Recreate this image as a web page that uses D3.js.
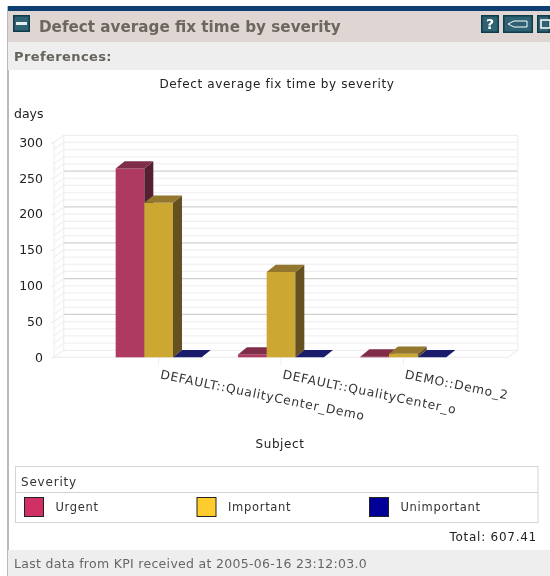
<!DOCTYPE html>
<html><head><meta charset="utf-8">
<script src="https://cdn.jsdelivr.net/npm/d3@7/dist/d3.min.js"></script>
<style>html,body{margin:0;padding:0;background:#fff}svg{display:block;filter:blur(0.35px)}</style>
</head><body><div id="c"></div>
<script>
const categories = ["DEFAULT::QualityCenter_Demo","DEFAULT::QualityCenter_o","DEMO::Demo_2"];
const severities = ["Urgent","Important","Unimportant"];
const urgentValues = [263.5,4,0.9];
const importantValues = [215.5,119,5];
const unimportantValues = [0,0,0];
const yTicks = [0,50,100,150,200,250,300];
const minorTicks = d3.range(0,301,10);
const chartTitle = "Defect average fix time by severity";
const totalLabel = "Total: 607.41";
const footerLabel = "Last data from KPI received at 2005-06-16 23:12:03.0";

const seriesValues = [urgentValues,importantValues,unimportantValues];
const faces = [
 {front:"#ae3a61",top:"#7f2d48",side:"#562034",legend:"#d03064"},
 {front:"#cca833",top:"#93772e",side:"#655022",legend:"#ffcc2e"},
 {front:"#10106e",top:"#1b1b6b",side:"#0b0b45",legend:"#000099"}];
const font = "'DejaVu Sans',sans-serif";
const svg = d3.select("#c").append("svg").attr("width",550).attr("height",576).style("font-family",font);
const rect=(x,y,w,h,f)=>svg.append("rect").attr("x",x).attr("y",y).attr("width",w).attr("height",h).attr("fill",f);

// page chrome
rect(7,6,2,570,"#b9b9b9");
rect(8,6,542,5,"#0e3f73");
rect(8,11,542,31,"#dfd6d4");
rect(8,42,542,28,"#eeeeee");
rect(8,550,542,26,"#eeeeee");
svg.append("text").attr("x",39).attr("y",32).attr("font-size",15.2).attr("font-weight","bold").attr("fill","#6b665e").text(chartTitle);
svg.append("text").attr("x",14).attr("y",61).attr("font-size",13).attr("letter-spacing",0.4).attr("font-weight","bold").attr("fill","#66625c").text("Preferences:");

// icons
const icon=(x,y,w,h)=>{rect(x,y,w,h,"#0f3b4a");rect(x+1.5,y+1.5,w-3,h-3,"#2f6272");};
icon(13,15,17,17);
rect(16,22,11,3,"#e8eef0");
icon(481,15,18,18);
svg.append("text").attr("x",490).attr("y",29).attr("text-anchor","middle").attr("font-size",14).attr("font-weight","bold").attr("fill","#fff").text("?");
icon(503,15,30,18);
svg.append("path").attr("d","M508 24l6-3h13v6h-13z").attr("fill","#2f6272").attr("stroke","#fff");
icon(537,15,13,18);
svg.append("rect").attr("x",541).attr("y",20).attr("width",9).attr("height",8).attr("fill","none").attr("stroke","#fff").attr("stroke-width",1.5);

svg.append("text").attr("x",277).attr("y",88).attr("text-anchor","middle").attr("font-size",12).attr("letter-spacing",0.65).attr("fill","#222").text(chartTitle);
svg.append("text").attr("x",14).attr("y",118).attr("font-size",12.5).attr("fill","#222").text("days");

// scales
const y = d3.scaleLinear().domain([0,300]).range([357.3,142.3]);
const x0 = d3.scaleBand().domain(categories).range([97.5,464.5]).paddingInner(0.297).paddingOuter(0.1485);
const x1 = d3.scaleBand().domain(severities).range([0,x0.bandwidth()]);
const wallDx=9.7, wallDy=-7, barDx=9, barDy=-7.3, left=54, right=508;

// walls
const grid = svg.append("g").attr("fill","none");
minorTicks.filter(v=>!yTicks.includes(v)).forEach(v=>{
  grid.append("path").attr("stroke","#f2f0f4").attr("stroke-width",1.2)
    .attr("d",`M${left} ${y(v)}L${left+wallDx} ${y(v)+wallDy}H${right+wallDx}`);
});
yTicks.forEach(v=>{
  const major = v>0 && v<300;
  grid.append("path").attr("stroke","#f0eef2").attr("stroke-width",1.2)
    .attr("d",`M${left} ${y(v)}L${left+wallDx} ${y(v)+wallDy}`);
  grid.append("path").attr("stroke",major?"#d0d0d0":"#f0eef2").attr("stroke-width",major?1.3:1.2)
    .attr("d",`M${left+wallDx} ${y(v)+wallDy}H${right+wallDx}`);
});
grid.append("path").attr("stroke","#f0eef2").attr("stroke-width",1.2)
  .attr("d",`M${left} ${y(300)}V${y(0)}H${right}L${right+wallDx} ${y(0)+wallDy}V${y(300)+wallDy}M${left+wallDx} ${y(300)+wallDy}V${y(0)+wallDy}`);

// y axis
const yAxis = svg.append("g").attr("transform",`translate(${left},0)`)
  .call(d3.axisLeft(y).tickValues(yTicks).tickSize(3).tickPadding(8));
yAxis.select(".domain").remove();
yAxis.selectAll("line").attr("stroke","#ece8ee");
yAxis.selectAll("text").attr("font-size",12.5).attr("font-family",font).attr("fill","#222");

// x axis
const xAxis = svg.append("g").attr("transform",`translate(0,${y(0)})`)
  .call(d3.axisBottom(x0).tickSize(8).tickPadding(0).tickFormat(""));
xAxis.select(".domain").remove();
xAxis.selectAll("line").attr("stroke","#efecf0");
categories.forEach(c=>{
  const cx=x0(c)+x0.bandwidth()/2;
  svg.append("text").attr("transform",`translate(${cx+1},${y(0)+21}) rotate(11.6)`)
    .attr("font-size",12.3).attr("letter-spacing",0.75).attr("fill","#333").text(c);
});
svg.append("text").attr("x",280).attr("y",448).attr("text-anchor","middle").attr("font-size",12).attr("letter-spacing",0.6).attr("fill","#222").text("Subject");

// bars
categories.forEach((c,ci)=>{
  severities.forEach((s,si)=>{
    const v=seriesValues[si][ci], f=faces[si];
    const xa=x0(c)+x1(s), xb=xa+x1.bandwidth(), yt=y(v), yb=y(0);
    const g=svg.append("g");
    if(v>0){
      g.append("rect").attr("x",xa).attr("y",yt).attr("width",xb-xa).attr("height",yb-yt).attr("fill",f.front);
      g.append("path").attr("fill",f.side).attr("d",`M${xb} ${yt}l${barDx} ${barDy}V${yb+barDy}L${xb} ${yb}z`);
    }
    g.append("path").attr("fill",f.top).attr("d",`M${xa} ${yt}l${barDx} ${barDy}H${xb+barDx}L${xb} ${yt}z`);
  });
});

// legend
svg.append("rect").attr("x",15.5).attr("y",466.5).attr("width",522.5).attr("height",56).attr("fill","none").attr("stroke","#d4d4d4");
svg.append("line").attr("x1",15).attr("x2",538).attr("y1",492.5).attr("y2",492.5).attr("stroke","#d4d4d4");
svg.append("text").attr("x",21).attr("y",486).attr("font-size",12).attr("letter-spacing",0.8).attr("fill","#333").text("Severity");
const lx = d3.scalePoint().domain(severities).range([24.5,369.5]);
severities.forEach((s,i)=>{
  svg.append("rect").attr("x",lx(s)).attr("y",497.5).attr("width",19).attr("height",19).attr("fill",faces[i].legend).attr("stroke","#222");
  svg.append("text").attr("x",lx(s)+31).attr("y",511).attr("font-size",11.5).attr("letter-spacing",0.7).attr("fill","#333").text(s);
});
svg.append("text").attr("x",537).attr("y",541).attr("text-anchor","end").attr("font-size",12).attr("letter-spacing",0.75).attr("fill","#222").text(totalLabel);
svg.append("text").attr("x",14).attr("y",568).attr("font-size",12.5).attr("letter-spacing",0.3).attr("fill","#666").text(footerLabel);
</script></body></html>
